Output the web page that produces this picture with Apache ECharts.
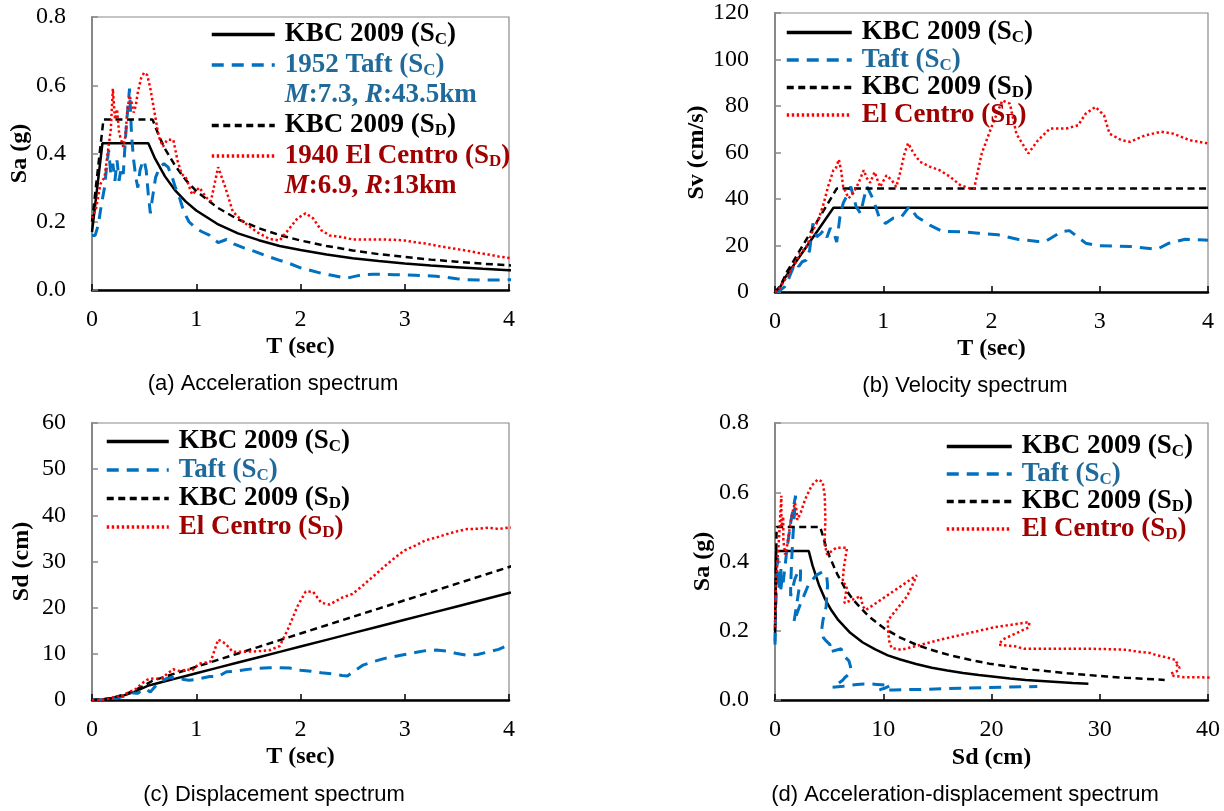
<!DOCTYPE html>
<html><head><meta charset="utf-8">
<script src="https://cdn.jsdelivr.net/npm/echarts@6/dist/echarts.min.js"></script>
<style>html,body{margin:0;padding:0;background:#fff}#c{width:1224px;height:811px}</style>
</head><body><div id="c"></div>
<script>
// ---------- KBC 2009 design spectrum, site class SC ----------
const kbcC_T  = [0, 0.1, 0.2, 0.3, 0.4, 0.54, 0.6, 0.7, 0.8, 0.9, 1.0, 1.2, 1.4, 1.6, 1.8, 2.0, 2.25, 2.5, 2.75, 3.0, 3.25, 3.5, 3.75, 4.0, 4.25, 4.5, 4.75, 5.0];
const kbcC_Sa = [0.17, 0.43, 0.43, 0.43, 0.43, 0.43, 0.388, 0.333, 0.291, 0.259, 0.233, 0.194, 0.166, 0.146, 0.129, 0.117, 0.104, 0.093, 0.085, 0.078, 0.072, 0.067, 0.062, 0.058, 0.055, 0.052, 0.049, 0.047];
const kbcC_Sd = [0, 0.11, 0.43, 0.96, 1.71, 3.12, 3.47, 4.05, 4.63, 5.21, 5.79, 6.95, 8.11, 9.26, 10.42, 11.58, 13.03, 14.48, 15.92, 17.37, 18.82, 20.27, 21.71, 23.16, 24.61, 26.06, 27.5, 28.95];
// ---------- KBC 2009 design spectrum, site class SD ----------
const kbcD_T  = [0, 0.11, 0.2, 0.3, 0.4, 0.5, 0.58, 0.65, 0.7, 0.8, 0.9, 1.0, 1.2, 1.4, 1.6, 1.8, 2.0, 2.25, 2.5, 2.75, 3.0, 3.25, 3.5, 3.75, 4.0, 4.25, 4.5, 4.75, 5.0];
const kbcD_Sa = [0.2, 0.5, 0.5, 0.5, 0.5, 0.5, 0.5, 0.446, 0.414, 0.363, 0.322, 0.29, 0.242, 0.207, 0.181, 0.161, 0.145, 0.129, 0.116, 0.105, 0.097, 0.089, 0.083, 0.077, 0.0725, 0.068, 0.064, 0.061, 0.058];
const kbcD_Sd = [0, 0.15, 0.5, 1.12, 1.99, 3.11, 4.18, 4.68, 5.04, 5.76, 6.48, 7.2, 8.64, 10.08, 11.52, 12.96, 14.4, 16.2, 18.0, 19.8, 21.6, 23.4, 25.2, 27.0, 28.8, 30.6, 32.4, 34.2, 36.0];
// ---------- 1952 Taft ----------
const taft_T  = [0, 0.03, 0.06, 0.09, 0.12, 0.14, 0.16, 0.18, 0.20, 0.22, 0.24, 0.26, 0.28, 0.30, 0.32, 0.34, 0.36, 0.38, 0.40, 0.42, 0.44, 0.46, 0.48, 0.50, 0.52, 0.54, 0.56, 0.58, 0.61, 0.65, 0.69, 0.73, 0.77, 0.80, 0.84, 0.88, 0.93, 1.00, 1.06, 1.13, 1.21, 1.29, 1.36, 1.45, 1.56, 1.70, 1.80, 1.90, 2.00, 2.10, 2.20, 2.30, 2.40, 2.45, 2.52, 2.60, 2.70, 2.80, 2.90, 3.00, 3.10, 3.20, 3.30, 3.40, 3.50, 3.60, 3.70, 3.80, 3.90, 4.00, 4.20, 4.50, 4.80, 5.00];
const taft_Sa = [0.16, 0.16, 0.19, 0.25, 0.30, 0.36, 0.41, 0.34, 0.37, 0.32, 0.38, 0.32, 0.36, 0.34, 0.44, 0.52, 0.59, 0.45, 0.38, 0.33, 0.30, 0.35, 0.37, 0.38, 0.35, 0.28, 0.225, 0.27, 0.33, 0.36, 0.37, 0.36, 0.33, 0.30, 0.27, 0.23, 0.20, 0.18, 0.17, 0.16, 0.139, 0.148, 0.135, 0.124, 0.113, 0.097, 0.087, 0.077, 0.065, 0.057, 0.049, 0.043, 0.037, 0.035, 0.040, 0.045, 0.046, 0.046, 0.045, 0.044, 0.043, 0.042, 0.040, 0.037, 0.033, 0.030, 0.029, 0.029, 0.029, 0.030, 0.030, 0.034, 0.037, 0.039];
const taft_Sd = [0, 0.004, 0.017, 0.05, 0.107, 0.175, 0.261, 0.274, 0.368, 0.385, 0.544, 0.538, 0.701, 0.76, 1.12, 1.49, 1.90, 1.61, 1.51, 1.45, 1.44, 1.84, 2.12, 2.36, 2.35, 2.03, 1.75, 2.26, 3.05, 3.78, 4.38, 4.77, 4.86, 4.77, 4.73, 4.43, 4.30, 4.47, 4.75, 5.08, 5.06, 6.12, 6.21, 6.48, 6.83, 6.97, 7.00, 6.91, 6.46, 6.25, 5.89, 5.65, 5.30, 5.22, 6.31, 7.56, 8.33, 8.96, 9.40, 9.84, 10.27, 10.69, 10.82, 10.63, 10.05, 9.66, 9.87, 10.41, 10.96, 11.93, 13.15, 17.11, 21.18, 24.23];
// ---------- 1940 El Centro ----------
const elc_T  = [0, 0.04, 0.08, 0.12, 0.15, 0.18, 0.20, 0.22, 0.24, 0.26, 0.28, 0.30, 0.32, 0.34, 0.36, 0.38, 0.40, 0.42, 0.44, 0.47, 0.50, 0.53, 0.56, 0.60, 0.64, 0.68, 0.72, 0.78, 0.82, 0.86, 0.90, 0.96, 1.03, 1.10, 1.14, 1.21, 1.28, 1.35, 1.45, 1.58, 1.70, 1.80, 1.88, 1.97, 2.05, 2.12, 2.20, 2.28, 2.40, 2.50, 2.60, 2.70, 2.80, 2.90, 3.00, 3.10, 3.20, 3.30, 3.40, 3.50, 3.60, 3.70, 3.80, 3.90, 4.00, 4.20, 4.40, 4.60, 4.80, 5.00];
const elc_Sa = [0.21, 0.24, 0.31, 0.33, 0.40, 0.47, 0.59, 0.50, 0.53, 0.46, 0.44, 0.42, 0.45, 0.53, 0.57, 0.55, 0.52, 0.54, 0.58, 0.62, 0.637, 0.63, 0.59, 0.52, 0.45, 0.42, 0.44, 0.44, 0.38, 0.34, 0.33, 0.28, 0.30, 0.27, 0.26, 0.36, 0.30, 0.23, 0.20, 0.17, 0.15, 0.145, 0.175, 0.21, 0.225, 0.21, 0.175, 0.16, 0.155, 0.148, 0.148, 0.148, 0.148, 0.147, 0.145, 0.140, 0.136, 0.130, 0.125, 0.120, 0.115, 0.109, 0.104, 0.098, 0.094, 0.085, 0.076, 0.070, 0.066, 0.065];
const elc_Sd = [0, 0.01, 0.049, 0.118, 0.224, 0.378, 0.586, 0.601, 0.759, 0.773, 0.857, 0.939, 1.145, 1.523, 1.836, 1.974, 2.068, 2.367, 2.79, 3.404, 3.957, 4.398, 4.598, 4.652, 4.58, 4.826, 5.668, 6.652, 6.349, 6.249, 6.642, 6.413, 7.909, 8.118, 8.397, 13.10, 12.21, 10.42, 10.45, 10.55, 10.77, 11.67, 15.37, 20.25, 23.50, 23.45, 21.05, 20.67, 22.19, 22.99, 24.86, 26.81, 28.83, 30.72, 32.43, 33.43, 34.61, 35.18, 35.91, 36.53, 37.04, 37.08, 37.32, 37.04, 37.37, 37.26, 36.56, 36.81, 37.79, 40.38];
// ---------- Velocity spectra ----------
const kbcC_SvT = [0, 0.05, 0.1, 0.2, 0.3, 0.4, 0.54, 4.0];
const kbcC_Sv  = [0, 2.3, 6.7, 13.4, 20.1, 26.8, 36.2, 36.2];
const kbcD_SvT = [0, 0.05, 0.11, 0.2, 0.3, 0.4, 0.5, 0.57, 4.0];
const kbcD_Sv  = [0, 2.7, 8.6, 15.6, 23.4, 31.2, 39.0, 44.5, 44.5];
const taft_SvT = [0, 0.02, 0.05, 0.09, 0.12, 0.14, 0.185, 0.22, 0.25, 0.29, 0.32, 0.35, 0.385, 0.42, 0.45, 0.48, 0.51, 0.54, 0.57, 0.60, 0.63, 0.67, 0.70, 0.75, 0.79, 0.82, 0.85, 0.91, 0.96, 1.02, 1.09, 1.17, 1.24, 1.31, 1.43, 1.55, 1.74, 1.88, 2.06, 2.24, 2.43, 2.50, 2.65, 2.72, 2.87, 2.98, 3.28, 3.53, 3.64, 3.79, 3.97, 4.0];
const taft_Sv  = [0, 0.2, 0.8, 2.3, 5.0, 7.3, 12.3, 11.0, 13.0, 13.7, 18.0, 29.5, 23.7, 25.0, 26.6, 23.5, 27.4, 26.0, 21.5, 32.4, 38.2, 42.0, 45.3, 36.7, 33.8, 40.0, 45.3, 39.6, 32.4, 29.5, 31.7, 32.4, 36.7, 32.4, 28.8, 26.0, 25.9, 25.3, 24.6, 22.7, 21.7, 21.8, 26.0, 26.4, 21.0, 19.9, 19.6, 18.4, 21.0, 22.7, 22.4, 22.3];
const elc_SvT = [0, 0.03, 0.11, 0.17, 0.23, 0.29, 0.35, 0.40, 0.45, 0.49, 0.54, 0.56, 0.59, 0.61, 0.63, 0.68, 0.72, 0.77, 0.82, 0.85, 0.88, 0.92, 0.97, 1.03, 1.08, 1.12, 1.15, 1.20, 1.23, 1.28, 1.34, 1.43, 1.52, 1.62, 1.71, 1.80, 1.84, 1.91, 2.00, 2.10, 2.17, 2.23, 2.34, 2.43, 2.54, 2.69, 2.80, 2.87, 2.96, 3.04, 3.09, 3.20, 3.28, 3.42, 3.57, 3.68, 3.83, 4.00];
const elc_Sv  = [0, 0.9, 6.5, 10.8, 16.5, 19.4, 26.6, 30.9, 38.1, 45.3, 52.4, 53.0, 57.0, 52.4, 45.3, 40.3, 42.4, 46.7, 52.4, 48.8, 47.0, 51.6, 45.2, 50.2, 48.0, 45.2, 50.2, 60.2, 64.0, 59.7, 56.0, 53.9, 52.4, 49.5, 46.0, 44.5, 44.6, 59.6, 71.0, 82.4, 81.0, 68.0, 59.6, 65.3, 70.3, 70.3, 71.7, 76.7, 79.6, 76.0, 68.1, 65.3, 64.6, 67.4, 68.9, 68.1, 65.3, 63.9];
// ---------- text ----------
const captions = ['(a) Acceleration spectrum', '(b) Velocity spectrum', '(c) Displacement spectrum', '(d) Acceleration-displacement spectrum'];

const SERIF = "'Liberation Serif','Times New Roman',serif";
const SANS = "'Liberation Sans',Arial,sans-serif";
const BLUE = '#0070C0', RED = '#FF0000', BLUE_T = '#1F6A9A', RED_T = '#A00000';

const pts = (xs, ys) => xs.map((x, i) => [x, ys[i]]);

function mk(name, color, type, width, data, gi) {
  return { name, type: 'line', xAxisIndex: gi, yAxisIndex: gi, data, symbol: 'none', showSymbol: false,
    animation: false, clip: true, lineStyle: { color, type, width, cap: 'butt' }, itemStyle: { color }, silent: true };
}
const SOLID = 'solid', DASH = [7, 4.5], BDASH = [12, 8], DOT = [2.4, 2.6];

const series = [
  mk('a1', '#000', SOLID, 2.5, pts(kbcC_T, kbcC_Sa), 0),
  mk('a2', BLUE, BDASH, 3, pts(taft_T, taft_Sa), 0),
  mk('a3', 'rgba(0,0,0,0)', SOLID, 1, [], 0),
  mk('a4', '#000', DASH, 2.5, pts(kbcD_T, kbcD_Sa), 0),
  mk('a5', RED, DOT, 2.5, pts(elc_T, elc_Sa), 0),
  mk('a6', 'rgba(0,0,0,0)', SOLID, 1, [], 0),
  mk('b1', '#000', SOLID, 2.5, pts(kbcC_SvT, kbcC_Sv), 1),
  mk('b2', BLUE, BDASH, 3, pts(taft_SvT, taft_Sv), 1),
  mk('b3', '#000', DASH, 2.5, pts(kbcD_SvT, kbcD_Sv), 1),
  mk('b4', RED, DOT, 2.5, pts(elc_SvT, elc_Sv), 1),
  mk('c1', '#000', SOLID, 2.5, pts(kbcC_T, kbcC_Sd), 2),
  mk('c2', BLUE, BDASH, 3, pts(taft_T, taft_Sd), 2),
  mk('c3', '#000', DASH, 2.5, pts(kbcD_T, kbcD_Sd), 2),
  mk('c4', RED, DOT, 2.5, pts(elc_T, elc_Sd), 2),
  mk('d1', '#000', SOLID, 2.5, pts(kbcC_Sd, kbcC_Sa), 3),
  mk('d2', BLUE, BDASH, 3, pts(taft_Sd, taft_Sa), 3),
  mk('d3', '#000', DASH, 2.5, pts(kbcD_Sd, kbcD_Sa), 3),
  mk('d4', RED, DOT, 2.5, pts(elc_Sd, elc_Sa), 3)
];

const LH = 28;
function tok(color, extra) { return Object.assign({ fontFamily: SERIF, fontWeight: 'bold', fontSize: 27, lineHeight: LH, color }, extra || {}); }
const RICH = {
  k0: tok('#000', { padding: [0, 0, 0, 5] }), k: tok('#000'), ks: tok('#000', { fontSize: 17, lineHeight: 14, verticalAlign: 'bottom' }),
  b0: tok(BLUE_T, { padding: [0, 0, 0, 5] }), b: tok(BLUE_T), bs: tok(BLUE_T, { fontSize: 17, lineHeight: 14, verticalAlign: 'bottom' }),
  bi0: tok(BLUE_T, { padding: [0, 0, 0, 5], fontStyle: 'italic' }), bi: tok(BLUE_T, { fontStyle: 'italic' }),
  r0: tok(RED_T, { padding: [0, 0, 0, 5] }), r: tok(RED_T), rs: tok(RED_T, { fontSize: 17, lineHeight: 14, verticalAlign: 'bottom' }),
  ri0: tok(RED_T, { padding: [0, 0, 0, 5], fontStyle: 'italic' }), ri: tok(RED_T, { fontStyle: 'italic' })
};
const KC = '{k0|KBC 2009 (S}{ks|C}{k|)}', KD = '{k0|KBC 2009 (S}{ks|D}{k|)}';
const LABELS = {
  a1: KC, a2: '{b0|1952 Taft (S}{bs|C}{b|)}', a3: '{bi0|M}{b|:7.3, }{bi|R}{b|:43.5km}',
  a4: KD, a5: '{r0|1940 El Centro (S}{rs|D}{r|)}', a6: '{ri0|M}{r|:6.9, }{ri|R}{r|:13km}',
  b1: KC, b2: '{b0|Taft (S}{bs|C}{b|)}', b3: KD, b4: '{r0|El Centro (S}{rs|D}{r|)}',
  c1: KC, c2: '{b0|Taft (S}{bs|C}{b|)}', c3: KD, c4: '{r0|El Centro (S}{rs|D}{r|)}',
  d1: KC, d2: '{b0|Taft (S}{bs|C}{b|)}', d3: KD, d4: '{r0|El Centro (S}{rs|D}{r|)}'
};
function leg(names, left, top, gap, iw) {
  return { orient: 'vertical', left, top, itemGap: gap, itemWidth: iw, itemHeight: 14, padding: 0,
    selectedMode: false, data: names, formatter: n => LABELS[n],
    itemStyle: { opacity: 0, borderWidth: 0 },
    lineStyle: { width: 3.5 }, textStyle: { rich: RICH } };
}

function xAx(gi, max, interval, name, gap) {
  return { type: 'value', gridIndex: gi, min: 0, max, interval, name, nameLocation: 'middle', nameGap: gap,
    nameTextStyle: { fontFamily: SERIF, fontWeight: 'bold', fontSize: 24, color: '#000' },
    axisLine: { onZero: false, lineStyle: { color: '#000', width: 2.5 } },
    axisTick: { inside: true, length: 6, lineStyle: { color: '#000', width: 1.5 } },
    axisLabel: { fontFamily: SERIF, fontSize: 24, color: '#000', margin: 18 },
    splitLine: { show: false } };
}
function yAx(gi, max, interval, name, gap, dec) {
  return { type: 'value', gridIndex: gi, min: 0, max, interval, name, nameLocation: 'middle', nameGap: gap,
    nameTextStyle: { fontFamily: SERIF, fontWeight: 'bold', fontSize: 24, color: '#000' },
    axisLine: { onZero: false, lineStyle: { color: '#888', width: 2 } },
    axisTick: { inside: true, length: 6, lineStyle: { color: '#888', width: 1.5 } },
    axisLabel: { fontFamily: SERIF, fontSize: 24, color: '#000', margin: 26, formatter: v => v.toFixed(dec) },
    splitLine: { show: false } };
}

const gridStyle = { show: true, borderColor: '#8a8a8a', borderWidth: 1.2, backgroundColor: 'transparent' };
const option = {
  backgroundColor: '#fff',
  animation: false,
  grid: [
    Object.assign({ left: 92, top: 17, width: 417, height: 273 }, gridStyle),
    Object.assign({ left: 775, top: 13, width: 433, height: 279 }, gridStyle),
    Object.assign({ left: 92, top: 423, width: 417, height: 277 }, gridStyle),
    Object.assign({ left: 775, top: 423, width: 433, height: 277 }, gridStyle)
  ],
  xAxis: [
    xAx(0, 4, 1, 'T (sec)', 45), xAx(1, 4, 1, 'T (sec)', 45),
    xAx(2, 4, 1, 'T (sec)', 45), xAx(3, 40, 10, 'Sd (cm)', 46)
  ],
  yAxis: [
    yAx(0, 0.8, 0.2, 'Sa (g)', 58, 1), yAx(1, 120, 20, 'Sv (cm/s)', 62, 0),
    yAx(2, 60, 10, 'Sd (cm)', 58, 0), yAx(3, 0.8, 0.2, 'Sa (g)', 60, 1)
  ],
  legend: [
    leg(['a1', 'a2', 'a3', 'a4', 'a5', 'a6'], 210, 21, 3, 63),
    leg(['b1', 'b2', 'b3', 'b4'], 785, 19, 0, 65),
    leg(['c1', 'c2', 'c3', 'c4'], 105, 428, 1, 62),
    leg(['d1', 'd2', 'd3', 'd4'], 945, 433, 0, 65)
  ],
  graphic: [
    [273, 384], [965, 386], [274, 795], [965, 795]
  ].map((p, i) => ({ type: 'text', x: p[0], y: p[1], silent: true,
    style: { text: captions[i], fontFamily: SANS, fontSize: 22, fill: '#000', align: 'center', verticalAlign: 'middle' } })),
  series
};
const chart = echarts.init(document.getElementById('c'), null, { renderer: 'canvas' });
chart.setOption(option);
</script></body></html>
